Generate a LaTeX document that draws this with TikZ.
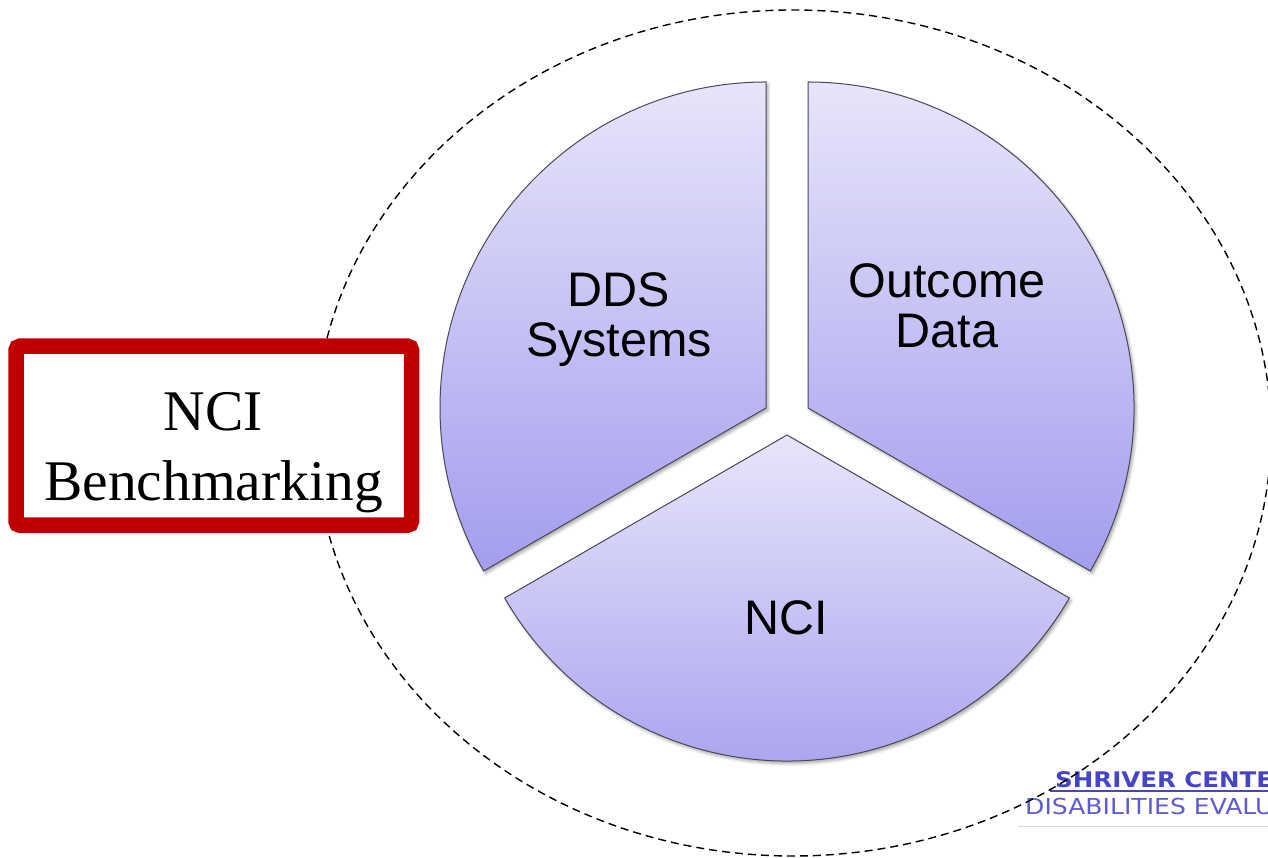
\documentclass[tikz,border=0pt]{standalone}
\usepackage{fontspec}
\setmainfont{Liberation Serif}
\newfontfamily\arialfont{Liberation Sans}
\newfontfamily\logofont[FakeStretch=1.14]{DejaVu Sans}
\usetikzlibrary{shadows.blur}
\definecolor{pietop}{RGB}{231,229,250}
\definecolor{piebot}{RGB}{163,157,238}
\definecolor{pieedge}{RGB}{72,72,88}
\definecolor{boxred}{RGB}{192,0,0}
\definecolor{logoblue}{RGB}{70,70,196}
\definecolor{logoblue2}{RGB}{92,92,208}
\tikzset{
  sector/.style={top color=pietop, bottom color=piebot, draw=pieedge, line width=1pt,
    blur shadow={shadow xshift=2pt, shadow yshift=-2.5pt, shadow blur radius=3pt, shadow opacity=35}},
  pielabel/.style={font=\arialfont\fontsize{48.5}{50}\selectfont, align=center, inner sep=0pt},
  redbox/.style={draw=boxred, line width=15.5pt, fill=white, rounded corners=4pt,
    minimum width=395.5pt, minimum height=179pt, inner sep=0pt},
  bmlabel/.style={font=\fontsize{57.5}{70}\selectfont, align=center, inner sep=0pt},
  outline/.style={draw=black, dash pattern=on 8pt off 5pt, line width=1.4pt},
  logoline1/.style={font=\logofont\bfseries\fontsize{21.5}{24}\selectfont, text=logoblue, anchor=base west, inner sep=0pt},
  logoline2/.style={font=\logofont\fontsize{22}{24}\selectfont, text=logoblue2, anchor=base west, inner sep=0pt},
}
\begin{document}
\begin{tikzpicture}[x=1pt,y=1pt]
\useasboundingbox (0,0) rectangle (1268,858);
% logo (cropped at the picture's edge)
\draw[gray!30, line width=1pt] (1018,31) -- (1268,31);
\node[logoline1] (shriver) at (1055,70) {SHRIVER CENTER};
\draw[logoblue, line width=1.4pt] (1050,67) -- (1268,67);
\node[logoline2] (disab) at (1025,43) {DISABILITIES EVALUATION};
% dashed outline
\draw[outline] (793,425) ellipse [x radius=478, y radius=423];
% pie sectors
\shade[sector] (766,450) -- ++(90:326) arc[start angle=90, end angle=210, radius=326] -- cycle;
\shade[sector] (808,450) -- ++(-30:326) arc[start angle=-30, end angle=90, radius=326] -- cycle;
\shade[sector] (787,423) -- ++(210:326) arc[start angle=210, end angle=330, radius=326] -- cycle;
\node[pielabel] (dds) at (619,538.5) {DDS\\Systems};
\node[pielabel] (outcome) at (947,552.6) {Outcome\\Data};
\node[pielabel] (nci) at (786,240) {NCI};
% red box
\node[redbox] (box) at (213.75,422.25) {};
\node[bmlabel] (bench) at (213.5,405) {NCI\\Benchmarking};
\end{tikzpicture}
\end{document}
